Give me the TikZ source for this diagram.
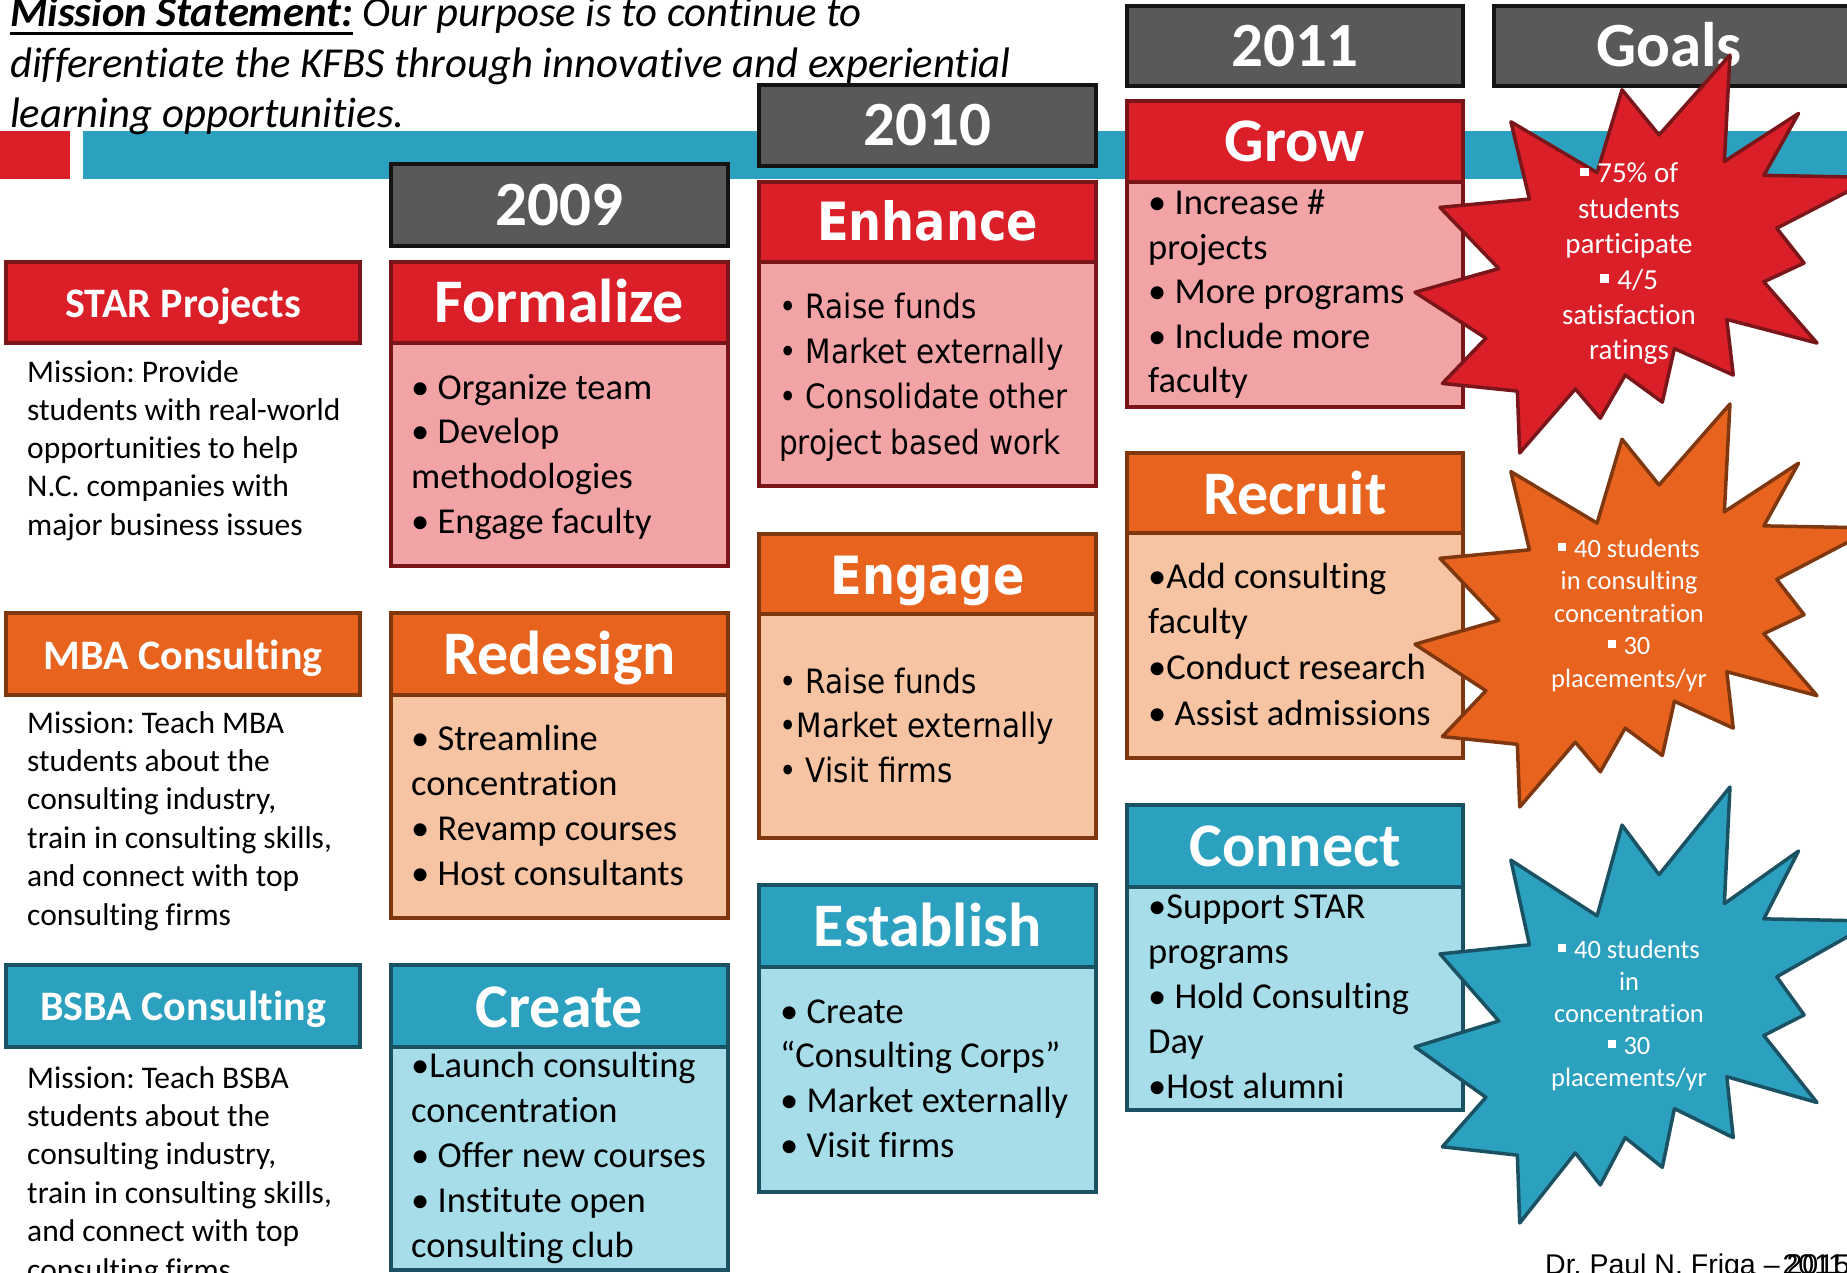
\documentclass[tikz,border=0pt]{standalone}
\usepackage{fontspec}
\setmainfont{Carlito}[Ligatures=NoCommon]
\newfontfamily\tahomaf[FakeStretch=0.88]{DejaVu Sans}
\newfontfamily\arialf{Liberation Sans}
\frenchspacing
\definecolor{redF}{RGB}{218,31,41}
\definecolor{redB}{RGB}{122,21,26}
\definecolor{pinkF}{RGB}{242,163,166}
\definecolor{oraF}{RGB}{232,99,30}
\definecolor{oraB}{RGB}{127,55,16}
\definecolor{peachF}{RGB}{246,195,163}
\definecolor{bluF}{RGB}{44,161,191}
\definecolor{bluB}{RGB}{27,82,99}
\definecolor{lbluF}{RGB}{166,221,233}
\definecolor{grayF}{RGB}{89,89,89}
\definecolor{grayB}{RGB}{20,20,20}
\newcommand\fs[2]{\fontsize{#1}{#2}\selectfont}
\newcommand\lft[2]{\parbox[t]{1400pt}{#1#2}}
\newcommand\ctr[2]{\parbox[t]{320pt}{\centering #1#2}}
\newcommand\ulx[1]{\leavevmode\sbox0{#1}\rlap{\rule[-8pt]{\wd0}{3pt}}\usebox0}
\newcommand\sqb{\rule[0.23em]{0.3em}{0.3em}\hspace{0.3em}}
\begin{document}
\begin{tikzpicture}[x=1pt,y=-1pt,
 rect/.style n args={2}{minimum width=#1, minimum height=#2, anchor=north west, inner sep=0pt, outer sep=0pt},
 gbox/.style={draw=grayB, fill=grayF, line width=4pt},
 rH/.style={draw=redB, fill=redF, line width=4pt},
 rB/.style={draw=redB, fill=pinkF, line width=4pt},
 oH/.style={draw=oraB, fill=oraF, line width=4pt},
 oB/.style={draw=oraB, fill=peachF, line width=4pt},
 bH/.style={draw=bluB, fill=bluF, line width=4pt},
 bB/.style={draw=bluB, fill=lbluF, line width=4pt},
 ttl/.style={anchor=base, inner sep=0pt, text=white, font=\bfseries\fs{62}{62}},
 ttlT/.style={anchor=base, inner sep=0pt, text=white, font=\tahomaf\bfseries\fs{52.7}{60}},
 lbl/.style={anchor=base, inner sep=0pt, text=white, font=\bfseries\fs{42}{50}},
 yr/.style={anchor=base, inner sep=0pt, text=white, font=\bfseries\fs{63}{63}},
 txt/.style={anchor=base west, inner sep=0pt},
 sttxt/.style={anchor=base, inner sep=0pt, text=white},
 starR/.style={draw=redB, fill=redF, line width=3.5pt, line join=round},
 starO/.style={draw=oraB, fill=oraF, line width=3.5pt, line join=round},
 starB/.style={draw=bluB, fill=bluF, line width=3.5pt, line join=round}]
\useasboundingbox (0,0) rectangle (1847,1273);
\clip (0,0) rectangle (1847,1273);
\fill[white] (0,0) rectangle (1847,1273);
% timeline bar
\node[fill=bluF, rect={1764}{48}] (bar) at (83,131) {};
\node[fill=redF, rect={70}{48}] (redsq) at (0,131) {};
% mission statement
\node[txt] (mission) at (10,27) {\lft{\fs{42.7}{50.5}\itshape}{\ulx{\bfseries Mission Statement:} Our purpose is to continue to\\differentiate the KFBS through innovative and experiential\\learning opportunities.}};
% year headers
\node[gbox, rect={337}{82}] (y2009) at (391,164) {};
\node[yr] (y2009t) at (559.5,226) {2009};
\node[gbox, rect={337}{81}] (y2010) at (759,85) {};
\node[yr] (y2010t) at (927.5,146) {2010};
\node[gbox, rect={336}{80}] (y2011) at (1127,6) {};
\node[yr] (y2011t) at (1295,66.5) {2011};
\node[gbox, rect={380}{80}] (goals) at (1494,6) {};
\node[yr] (goalst) at (1669,66.5) {Goals};
% left column labels
\node[rH, rect={354}{81}] (starH) at (6,262) {};
\node[lbl] (starT) at (183,317) {STAR Projects};
\node[txt] (starM) at (27,382) {\lft{\fs{31.5}{38.3}}{Mission: Provide\\students with real-world\\opportunities to help\\N.C. companies with\\major business issues}};
\node[oH, rect={354}{82}] (mbaH) at (6,613) {};
\node[lbl] (mbaT) at (183,669) {MBA Consulting};
\node[txt] (mbaM) at (27,733) {\lft{\fs{31.5}{38.4}}{Mission: Teach MBA\\students about the\\consulting industry,\\train in consulting skills,\\and connect with top\\consulting firms}};
\node[bH, rect={354}{82}] (bsbaH) at (6,965) {};
\node[lbl] (bsbaT) at (183,1020) {BSBA Consulting};
\node[txt] (bsbaM) at (27,1088) {\lft{\fs{31.5}{38.4}}{Mission: Teach BSBA\\students about the\\consulting industry,\\train in consulting skills,\\and connect with top\\consulting firms}};
% 2009 column
\node[rB, rect={337}{223}] (formB) at (391,343) {};
\node[rH, rect={337}{81}] (formH) at (391,262) {};
\node[ttl] (formT) at (559.5,323) {Formalize};
\node[txt] (formX) at (411,399) {\lft{\fs{36.5}{44.7}}{• Organize team\\• Develop\\methodologies\\• Engage faculty}};
\node[oB, rect={337}{223}] (redB) at (391,695) {};
\node[oH, rect={337}{82}] (redH) at (391,613) {};
\node[ttl] (redT) at (559.5,674) {Redesign};
\node[txt] (redX) at (411,750) {\lft{\fs{36.5}{45}}{• Streamline\\concentration\\• Revamp courses\\• Host consultants}};
\node[bB, rect={337}{223}] (creB) at (391,1047) {};
\node[bH, rect={337}{82}] (creH) at (391,965) {};
\node[ttl] (creT) at (559.5,1027) {Create};
\node[txt] (creX) at (411,1077) {\lft{\fs{36.5}{45.2}}{•Launch consulting\\concentration\\• Offer new courses\\• Institute open\\consulting club}};
% 2010 column
\node[rB, rect={337}{224}] (enhB) at (759,262) {};
\node[rH, rect={337}{80}] (enhH) at (759,182) {};
\node[ttlT] (enhT) at (927.5,241) {Enhance};
\node[txt] (enhX) at (779,319) {\lft{\tahomaf\fs{33.5}{45}}{• Raise funds\\• Market externally\\• Consolidate other\\project based work}};
\node[oB, rect={337}{224}] (engB) at (759,614) {};
\node[oH, rect={337}{80}] (engH) at (759,534) {};
\node[ttlT] (engT) at (927.5,594) {Engage};
\node[txt] (engX) at (779,693) {\lft{\tahomaf\fs{33.5}{44.5}}{• Raise funds\\•Market externally\\• Visit firms}};
\node[bB, rect={337}{225}] (estB) at (759,967) {};
\node[bH, rect={337}{82}] (estH) at (759,885) {};
\node[ttl] (estT) at (927.5,946) {Establish};
\node[txt] (estX) at (780,1023) {\lft{\fs{36.5}{44.7}}{• Create\\“Consulting Corps”\\• Market externally\\• Visit firms}};
% 2011 column
\node[rB, rect={336}{225}] (groB) at (1127,182) {};
\node[rH, rect={336}{81}] (groH) at (1127,101) {};
\node[ttl] (groT) at (1295,162) {Grow};
\node[txt] (groX) at (1148,215) {\lft{\fs{36.5}{44.5}}{• Increase \#\\projects\\• More programs\\• Include more\\faculty}};
\node[oB, rect={336}{225}] (recB) at (1127,533) {};
\node[oH, rect={336}{80}] (recH) at (1127,453) {};
\node[ttl] (recT) at (1295,514) {Recruit};
\node[txt] (recX) at (1148,588) {\lft{\fs{36.5}{45.7}}{•Add consulting\\faculty\\•Conduct research\\• Assist admissions}};
\node[bB, rect={336}{223}] (conB) at (1127,887) {};
\node[bH, rect={336}{82}] (conH) at (1127,805) {};
\node[ttl] (conT) at (1295,866) {Connect};
\node[txt] (conX) at (1148,918) {\lft{\fs{36.5}{45}}{•Support STAR\\programs\\• Hold Consulting\\Day\\•Host alumni}};
% goal stars
\begin{scope}[shift={(1415,55)}, x=460pt, y=-398pt]
\draw[starR] (0.5306,0.2010) -- (0.6847,0) -- (0.6725,0.2675) -- (0.8337,0.1469) -- (0.7583,0.3024) -- (1,0.3076) -- (0.7863,0.4353) -- (0.8458,0.5227) -- (0.7583,0.5699) -- (0.8739,0.7237) -- (0.6778,0.6644) -- (0.6918,0.8042) -- (0.5639,0.7377) -- (0.5376,0.8723) -- (0.4570,0.8042) -- (0.4028,0.9126) -- (0.3485,0.8391) -- (0.2276,1) -- (0.2225,0.8444) -- (0.0595,0.8252) -- (0.1542,0.7116) -- (0,0.5962) -- (0.1822,0.5367) -- (0.0543,0.3829) -- (0.2487,0.3619) -- (0.2084,0.1678) -- (0.3958,0.2955) -- (0.4501,0.0874) -- cycle;
\end{scope}
\begin{scope}[shift={(1415,404)}, x=460pt, y=-403pt]
\draw[starO] (0.5306,0.2010) -- (0.6847,0) -- (0.6725,0.2675) -- (0.8337,0.1469) -- (0.7583,0.3024) -- (1,0.3076) -- (0.7863,0.4353) -- (0.8458,0.5227) -- (0.7583,0.5699) -- (0.8739,0.7237) -- (0.6778,0.6644) -- (0.6918,0.8042) -- (0.5639,0.7377) -- (0.5376,0.8723) -- (0.4570,0.8042) -- (0.4028,0.9126) -- (0.3485,0.8391) -- (0.2276,1) -- (0.2225,0.8444) -- (0.0595,0.8252) -- (0.1542,0.7116) -- (0,0.5962) -- (0.1822,0.5367) -- (0.0543,0.3829) -- (0.2487,0.3619) -- (0.2084,0.1678) -- (0.3958,0.2955) -- (0.4501,0.0874) -- cycle;
\end{scope}
\begin{scope}[shift={(1415,787)}, x=460pt, y=-436pt]
\draw[starB] (0.5306,0.2010) -- (0.6847,0) -- (0.6725,0.2675) -- (0.8337,0.1469) -- (0.7583,0.3024) -- (1,0.3076) -- (0.7863,0.4353) -- (0.8458,0.5227) -- (0.7583,0.5699) -- (0.8739,0.7237) -- (0.6778,0.6644) -- (0.6918,0.8042) -- (0.5639,0.7377) -- (0.5376,0.8723) -- (0.4570,0.8042) -- (0.4028,0.9126) -- (0.3485,0.8391) -- (0.2276,1) -- (0.2225,0.8444) -- (0.0595,0.8252) -- (0.1542,0.7116) -- (0,0.5962) -- (0.1822,0.5367) -- (0.0543,0.3829) -- (0.2487,0.3619) -- (0.2084,0.1678) -- (0.3958,0.2955) -- (0.4501,0.0874) -- cycle;
\end{scope}
\node[sttxt] (goalR) at (1629,183) {\ctr{\fs{29}{35.4}}{\sqb 75\% of\\students\\participate\\\sqb 4/5\\satisfaction\\ratings}};
\node[sttxt] (goalO) at (1629,557) {\ctr{\fs{26.5}{32.5}}{\sqb 40 students\\in consulting\\concentration\\\sqb 30\\placements/yr}};
\node[sttxt] (goalB) at (1629,958) {\ctr{\fs{26.5}{32}}{\sqb 40 students\\in\\concentration\\\sqb 30\\placements/yr}};
% footer
\node[txt, font=\arialf\fs{28.5}{30}] (footer) at (1545,1274) {Dr. Paul N. Friga –\kern3pt\rlap{2011}\kern4pt 2015};
\end{tikzpicture}
\end{document}
